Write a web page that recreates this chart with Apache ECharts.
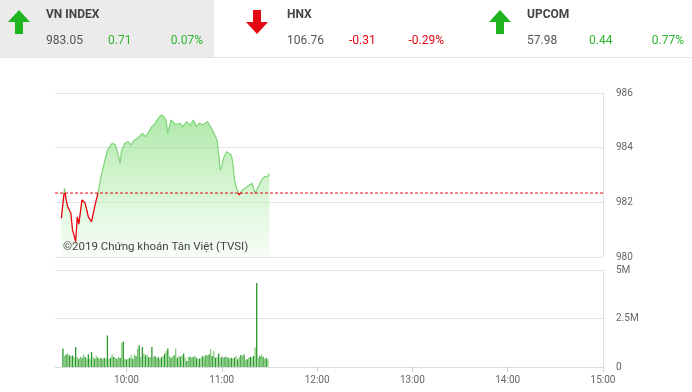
<!DOCTYPE html>
<html><head><meta charset="utf-8">
<script src="https://cdn.jsdelivr.net/npm/echarts@6/dist/echarts.min.js"></script>
<style>html,body{margin:0;padding:0;background:#fff;}#c{width:692px;height:392px;}</style>
</head><body><div id="c"></div>
<script>
// ---- data ----
const priceTimes = ['09:19','09:21','09:22','09:23','09:25','09:26','09:28','09:29','09:30','09:32','09:34','09:36','09:38','09:40','09:42','09:44','09:46','09:48','09:51','09:53','09:55','09:56','09:57','09:59','10:01','10:03','10:05','10:07','10:10','10:12','10:14','10:16','10:18','10:20','10:22','10:24','10:25','10:26','10:28','10:31','10:34','10:35','10:38','10:40','10:42','10:44','10:46','10:48','10:51','10:54','10:57','10:58','10:59','11:00','11:01','11:03','11:06','11:07','11:08','11:09','11:11','11:13','11:16','11:19','11:21','11:23','11:25','11:27','11:29','11:30'];
const priceValues = [981.42,982.51,982.09,981.84,981.6,981.0,980.56,981.47,981.2,982.09,981.97,981.47,981.29,981.84,982.33,982.94,983.43,983.91,984.16,984.1,983.7,983.43,983.91,984.16,984.22,984.1,984.28,984.34,984.52,984.4,984.58,984.77,984.89,985.07,985.2,985.1,984.95,984.52,985.01,984.85,984.89,984.75,984.95,984.8,985.01,984.77,984.9,984.83,984.95,984.65,984.28,983.79,983.18,983.3,983.6,983.85,983.73,983.43,982.82,982.57,982.27,982.45,982.57,982.7,982.33,982.57,982.82,982.94,982.95,983.05];
const referencePrice = 982.34;
const volumeStart = '09:20';
const volumeValues = [0.95,0.57,0.65,0.69,0.60,0.55,0.60,0.52,1.03,0.52,0.43,0.55,0.48,0.64,0.52,0.43,0.65,0.43,0.77,0.52,0.43,0.57,0.48,0.43,0.46,0.40,0.48,0.43,1.63,0.43,0.48,0.64,0.52,0.46,0.43,0.52,0.46,1.25,1.32,0.43,0.38,0.43,0.46,0.60,0.43,0.64,0.57,0.95,1.12,0.52,1.03,0.69,0.60,0.64,0.52,0.52,1.03,0.52,0.57,0.48,0.52,0.43,0.50,
0.57,0.69,0.82,0.96,0.57,0.48,0.53,0.60,0.96,0.48,0.57,0.53,0.60,0.69,0.48,0.31,0.53,0.53,0.48,0.52,0.57,0.48,0.43,0.43,0.48,0.57,0.53,0.62,0.60,0.65,0.91,0.57,0.82,0.48,0.52,0.69,0.48,0.53,0.48,0.52,0.53,0.48,0.43,0.48,0.45,0.48,0.57,0.40,0.52,0.62,0.57,0.65,0.34,0.40,0.48,0.52,0.50,0.57,1.0,4.33,0.48,0.57,0.65,0.53,0.43,0.48,0.40];
const priceTicks = [980, 982, 984, 986];
const hourTicks = ['10:00','11:00','12:00','13:00','14:00','15:00'];
const axisStart = '09:15', axisEnd = '15:00';
const headers = [
  {name:'VN INDEX', value:'983.05', change:'0.71', pct:'0.07%', up:true},
  {name:'HNX', value:'106.76', change:'-0.31', pct:'-0.29%', up:false},
  {name:'UPCOM', value:'57.98', change:'0.44', pct:'0.77%', up:true}
];
// ---- helpers ----
const toMin = s => { const [h,m] = s.split(':').map(Number); return h*60+m; };
const fmtMin = v => { const h = Math.floor(v/60), m = Math.round(v%60); return h + ':' + (m<10?'0':'') + m; };
const priceData = priceTimes.map((t,i)=>[toMin(t), priceValues[i]]);
const vs = toMin(volumeStart);
const volData = volumeValues.map((v,i)=>[vs+i, v*1e6]);
const xMin = toMin(axisStart), xMax = toMin(axisEnd);
const hourVals = hourTicks.map(toMin);

const GREEN='#2db52d', RED='#e30613';
const graphics = [];
graphics.push({type:'rect', shape:{x:0,y:0,width:214,height:57}, style:{fill:'#ebebeb'}, silent:true});
graphics.push({type:'line', shape:{x1:0,y1:57.5,x2:692,y2:57.5}, style:{stroke:'#e2e2e2',lineWidth:1}});
const colX = [0, 241, 481];
headers.forEach((h,k)=>{
  const ox = colX[k];
  const c = h.up ? '#1fb51f' : '#e30613';
  let pts;
  const ax = ox + 19;
  if (h.up) pts = [[ax,10],[ax+11,22],[ax+4,22],[ax+4,34],[ax-4,34],[ax-4,22],[ax-11,22]];
  else { const ax2 = ox + 16; pts = [[ax2,34],[ax2+11,22],[ax2+4,22],[ax2+4,10],[ax2-4,10],[ax2-4,22],[ax2-11,22]]; }
  graphics.push({type:'polygon', shape:{points:pts}, style:{fill:c}});
  const tx = ox + 46;
  graphics.push({type:'text', x:tx, y:15, style:{text:h.name, fill:'#444', font:'bold 12px Roboto', verticalAlign:'middle'}});
  graphics.push({type:'text', x:tx, y:41, style:{text:h.value, fill:'#555', font:'12px Roboto', verticalAlign:'middle'}});
  graphics.push({type:'text', x:tx+62, y:41, style:{text:h.change, fill:h.up?GREEN:RED, font:'12px Roboto', verticalAlign:'middle'}});
  graphics.push({type:'text', x:tx+157, y:41, style:{text:h.pct, fill:h.up?GREEN:RED, font:'12px Roboto', verticalAlign:'middle', align:'right'}});
});
graphics.push({type:'text', x:63, y:247, z:10, style:{text:'©2019 Chứng khoán Tân Việt (TVSI)', fill:'#444', font:'11.5px Roboto', verticalAlign:'middle'}});

const chart = echarts.init(document.getElementById('c'), null, {renderer:'canvas'});
chart.setOption({
  animation:false,
  backgroundColor:'#fff',
  graphic: graphics,
  grid:[
    {left:55, right:89, top:93, height:164},
    {left:55, right:89, top:270, height:97}
  ],
  xAxis:[
    {type:'value', gridIndex:0, min:xMin, max:xMax, axisLine:{show:false}, axisTick:{show:false}, axisLabel:{show:false}, splitLine:{show:false}},
    {type:'value', gridIndex:1, min:xMin, max:xMax,
      axisLine:{show:true, lineStyle:{color:'#dcdcdc'}},
      axisTick:{show:true, length:5, lineStyle:{color:'#c8d0dc'}, customValues:hourVals},
      axisLabel:{customValues:hourVals, formatter:v=>fmtMin(v), color:'#666', fontSize:10, fontFamily:'Roboto', margin:8},
      splitLine:{show:false}}
  ],
  yAxis:[
    {type:'value', gridIndex:0, position:'right', min:priceTicks[0], max:priceTicks[priceTicks.length-1], interval:2,
      axisLine:{show:true, lineStyle:{color:'#dde3ea'}}, axisTick:{show:false},
      axisLabel:{color:'#666', fontSize:10, fontFamily:'Roboto', margin:13},
      splitLine:{lineStyle:{color:'#e3e3e3'}}},
    {type:'value', gridIndex:1, position:'right', min:0, max:5e6, interval:2.5e6,
      axisLine:{show:true, lineStyle:{color:'#dde3ea'}}, axisTick:{show:false},
      axisLabel:{color:'#666', fontSize:10, fontFamily:'Roboto', margin:13, formatter:v=> v===0?'0':(v/1e6)+'M'},
      splitLine:{lineStyle:{color:'#e3e3e3'}}}
  ],
  visualMap:{show:false, type:'piecewise', seriesIndex:0, dimension:1,
    pieces:[{min:970, max:referencePrice, color:'#e8000a'},{min:referencePrice, max:1000, color:'#84d67c'}]},
  series:[
    {type:'line', xAxisIndex:0, yAxisIndex:0, data:priceData, showSymbol:false, symbol:'none',
      lineStyle:{width:1.3},
      areaStyle:{color:new echarts.graphic.LinearGradient(0,0,0,1,[
        {offset:0, color:'rgba(135,220,125,0.95)'},
        {offset:0.55, color:'rgba(185,238,178,0.8)'},
        {offset:1, color:'rgba(235,250,233,0.6)'}]), origin:'start'},
      z:3},
    {type:'line', xAxisIndex:0, yAxisIndex:0, data:[[xMin, referencePrice],[xMax, referencePrice]],
      symbol:'none', silent:true, itemStyle:{color:'#e30613'},
      lineStyle:{color:'#e30613', type:[3,2], width:1}, z:4},
    {type:'bar', xAxisIndex:1, yAxisIndex:1, data:volData, barWidth:1.3,
      itemStyle:{color:p=> (p.dataIndex%2===0 ? '#2b962b' : '#7fcc79')}}
  ]
});
</script></body></html>
